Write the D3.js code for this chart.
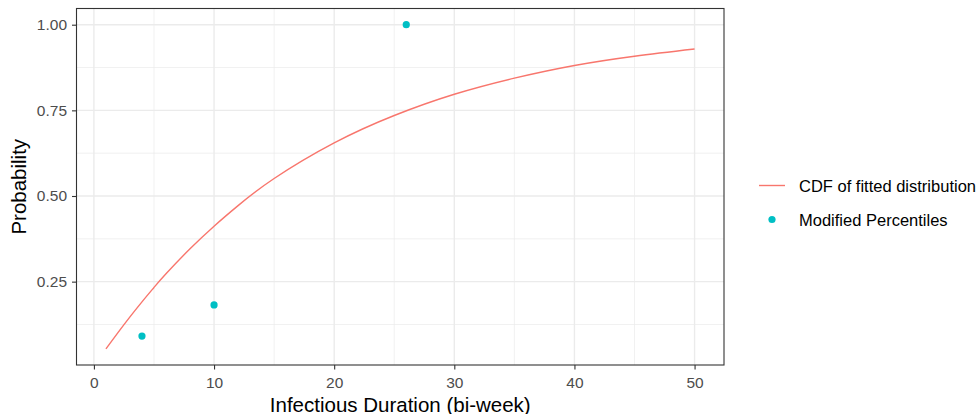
<!DOCTYPE html>
<html>
<head>
<meta charset="utf-8">
<script src="https://cdn.jsdelivr.net/npm/d3@7"></script>
<style>
  html, body { margin: 0; padding: 0; background: #fff; }
  svg { display: block; font-family: "Liberation Sans", Arial, sans-serif; }
</style>
</head>
<body>
<svg id="chart" width="979" height="414"></svg>
<script>
// Fitted CDF curve
const curveX = [1, 2, 3, 4, 5, 6, 8, 10, 12, 15, 20, 25, 30, 35, 40, 45, 50];
const curveY = [0.054, 0.101, 0.147, 0.191, 0.233, 0.273, 0.346, 0.412, 0.472, 0.551, 0.655, 0.735, 0.797, 0.844, 0.881, 0.908, 0.929];
// Modified percentiles points
const pointX = [4, 10, 26];
const pointY = [0.091, 0.182, 1.0];
// Ticks
const xTicks = [0, 10, 20, 30, 40, 50];
const yTicks = [0.25, 0.50, 0.75, 1.00];
const xMinor = [5, 15, 25, 35, 45];
const yMinor = [0.125, 0.375, 0.625, 0.875];
const legendLabels = ["CDF of fitted distribution", "Modified Percentiles"];

const svg = d3.select("#chart");
const L = 76.5, R = 724, T = 8.5, B = 365;

const xMin = 1, xMax = 50, yMin = 0.054, yMax = 1.0;
const xe = (xMax - xMin) * 0.05, ye = (yMax - yMin) * 0.05;
const x = d3.scaleLinear().domain([xMin - xe, xMax + xe]).range([L, R]);
const y = d3.scaleLinear().domain([yMin - ye, yMax + ye]).range([B, T]);

const grid = svg.append("g");
grid.selectAll(".xm").data(xMinor).enter().append("line")
  .attr("x1", d => x(d)).attr("x2", d => x(d)).attr("y1", T).attr("y2", B)
  .attr("stroke", "#EBEBEB").attr("stroke-width", 0.7);
grid.selectAll(".ym").data(yMinor).enter().append("line")
  .attr("y1", d => y(d)).attr("y2", d => y(d)).attr("x1", L).attr("x2", R)
  .attr("stroke", "#EBEBEB").attr("stroke-width", 0.7);
grid.selectAll(".xM").data(xTicks).enter().append("line")
  .attr("x1", d => x(d)).attr("x2", d => x(d)).attr("y1", T).attr("y2", B)
  .attr("stroke", "#EBEBEB").attr("stroke-width", 1.4);
grid.selectAll(".yM").data(yTicks).enter().append("line")
  .attr("y1", d => y(d)).attr("y2", d => y(d)).attr("x1", L).attr("x2", R)
  .attr("stroke", "#EBEBEB").attr("stroke-width", 1.4);

// curve
const lineData = curveX.map((d, i) => [d, curveY[i]]);
svg.append("path").datum(lineData)
  .attr("d", d3.line().x(d => x(d[0])).y(d => y(d[1])).curve(d3.curveNatural))
  .attr("fill", "none").attr("stroke", "#F8766D").attr("stroke-width", 1.4);

// points
svg.selectAll(".pt").data(pointX.map((d, i) => [d, pointY[i]])).enter().append("circle")
  .attr("cx", d => x(d[0])).attr("cy", d => y(d[1])).attr("r", 3.6)
  .attr("fill", "#00BFC4");

// panel border
svg.append("rect").attr("x", L).attr("y", T).attr("width", R - L).attr("height", B - T)
  .attr("fill", "none").attr("stroke", "#333333").attr("stroke-width", 1.1);

// axes
const xAxis = svg.append("g").attr("transform", `translate(0,${B})`)
  .call(d3.axisBottom(x).tickValues(xTicks).tickSize(4.5).tickPadding(7).tickFormat(d3.format("d")));
const yAxis = svg.append("g").attr("transform", `translate(${L},0)`)
  .call(d3.axisLeft(y).tickValues(yTicks).tickSize(4.5).tickPadding(5).tickFormat(d3.format(".2f")));
[xAxis, yAxis].forEach(a => {
  a.select(".domain").remove();
  a.selectAll(".tick line").attr("stroke", "#333333").attr("stroke-width", 1.1);
  a.selectAll(".tick text").attr("fill", "#4D4D4D").style("font-size", "15.5px")
    .style("font-family", "'Liberation Sans', Arial, sans-serif");
});
xAxis.selectAll(".tick text").attr("dy", null).attr("y", 22.5);

// axis titles
svg.append("text").attr("x", (L + R) / 2).attr("y", 411.5).attr("text-anchor", "middle")
  .style("font-size", "20.5px").attr("fill", "#000").text("Infectious Duration (bi-week)");
svg.append("text").attr("transform", `translate(26,${(T + B) / 2}) rotate(-90)`)
  .attr("text-anchor", "middle").style("font-size", "20.5px").attr("fill", "#000").text("Probability");

// legend
const lg = svg.append("g");
lg.append("line").attr("x1", 759).attr("x2", 785).attr("y1", 185.5).attr("y2", 185.5)
  .attr("stroke", "#F8766D").attr("stroke-width", 1.4);
lg.append("circle").attr("cx", 772).attr("cy", 219.5).attr("r", 3.6).attr("fill", "#00BFC4");
lg.selectAll(".lt").data(legendLabels).enter().append("text")
  .attr("x", 799).attr("y", (d, i) => 192.3 + i * 33.5)
  .style("font-size", "16.5px").attr("fill", "#000").text(d => d);
</script>
</body>
</html>
